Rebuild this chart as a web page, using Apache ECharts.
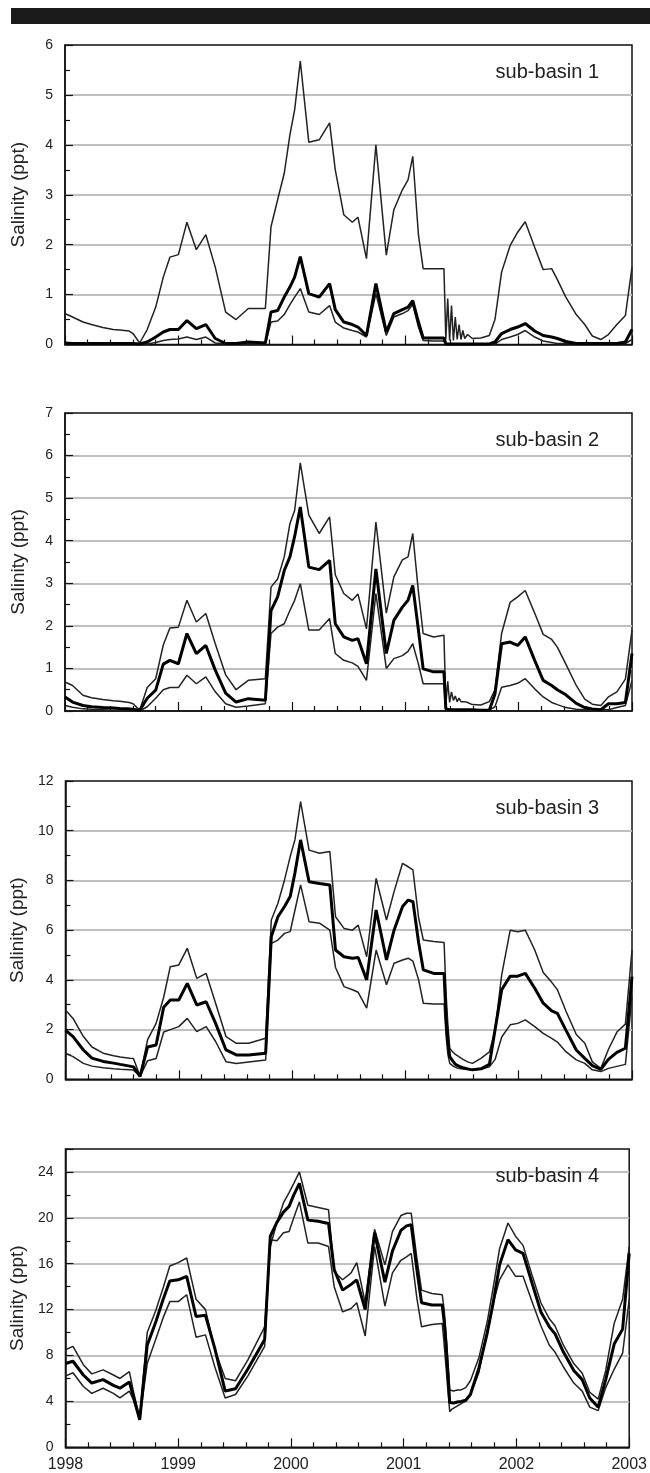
<!DOCTYPE html>
<html>
<head>
<meta charset="utf-8">
<script src="https://cdn.jsdelivr.net/npm/echarts@6/dist/echarts.min.js"></script>
<style>
  html, body { margin: 0; padding: 0; background: #fff; }
  #salinity { width: 650px; height: 1473px; }
</style>
</head>
<body>
<div id="salinity"></div>
<script>
// time in months since Jan 1998
var months = [0, 0.8, 1.9, 2.8, 4.0, 5.1, 5.8, 6.8, 7.2, 7.9,
  8.7, 9.6, 10.4, 11.1, 12.0, 12.9, 13.9, 14.9, 15.9, 17.0, 18.1, 19.4,
  21.2, 21.8, 22.5, 23.2, 23.8, 24.3, 24.9, 25.8, 26.9, 28.0, 28.6, 29.5, 30.4, 31.0, 31.9, 32.9, 34.0, 34.8, 35.7, 36.3, 36.8, 37.4, 37.9, 39.0,
  40.1, 40.3, 40.5, 40.7, 40.9, 41.1, 41.3, 41.5, 41.7, 41.9, 42.1, 42.3, 42.6, 43.1,
  44.0, 44.9, 45.5, 46.2, 47.1, 47.9, 48.7, 49.7, 50.6, 51.5, 52.1, 53.0, 54.1, 55.0, 55.8, 56.7, 57.5, 58.4, 59.3, 60];

// sub-basin 1
var sb1Hi = [0.62, 0.55, 0.45, 0.4, 0.34, 0.3, 0.29, 0.27, 0.22, 0.03,
  0.3, 0.75, 1.35, 1.75, 1.8, 2.45, 1.9, 2.2, 1.55, 0.65, 0.5, 0.72,
  0.72, 2.36, 2.9, 3.43, 4.2, 4.7, 5.68, 4.05, 4.1, 4.44, 3.5, 2.6, 2.45, 2.55, 1.72, 4.0, 1.79, 2.7, 3.1, 3.3, 3.77, 2.2, 1.52, 1.52,
  1.52, 0.1, 0.92, 0.08, 0.78, 0.08, 0.55, 0.1, 0.4, 0.1, 0.28, 0.12, 0.2, 0.12,
  0.13, 0.18, 0.5, 1.45, 1.98, 2.25, 2.46, 1.95, 1.5, 1.52, 1.3, 0.95, 0.6, 0.4, 0.17, 0.1, 0.2, 0.4, 0.58, 1.55];
var sb1Mid = [0.03, 0.02, 0.02, 0.02, 0.02, 0.02, 0.02, 0.02, 0.02, 0.01,
  0.05, 0.15, 0.25, 0.3, 0.3, 0.48, 0.32, 0.4, 0.12, 0.02, 0.02, 0.05,
  0.03, 0.65, 0.68, 0.95, 1.15, 1.35, 1.76, 1.02, 0.95, 1.22, 0.7, 0.45, 0.4, 0.35, 0.18, 1.22, 0.25, 0.62, 0.7, 0.75, 0.88, 0.45, 0.13, 0.13,
  0.13, 0.01, 0.01, 0.01, 0.01, 0.01, 0.01, 0.01, 0.01, 0.01, 0.01, 0.01, 0.01, 0.01,
  0.01, 0.01, 0.05, 0.22, 0.3, 0.35, 0.42, 0.27, 0.18, 0.15, 0.12, 0.06, 0.02, 0.02, 0.02, 0.02, 0.02, 0.02, 0.05, 0.3];
var sb1Lo = [0.01, 0.01, 0.01, 0.01, 0.01, 0.01, 0.01, 0.01, 0.01, 0.01,
  0.01, 0.04, 0.08, 0.1, 0.11, 0.15, 0.1, 0.15, 0.03, 0.01, 0.01, 0.01,
  0.01, 0.45, 0.47, 0.6, 0.8, 0.95, 1.12, 0.65, 0.6, 0.78, 0.45, 0.33, 0.28, 0.25, 0.15, 1.02, 0.18, 0.55, 0.62, 0.68, 0.8, 0.35, 0.08, 0.07,
  0.07, 0.01, 0.01, 0.01, 0.01, 0.01, 0.01, 0.01, 0.01, 0.01, 0.01, 0.01, 0.01, 0.01,
  0.01, 0.01, 0.01, 0.1, 0.15, 0.2, 0.28, 0.15, 0.07, 0.04, 0.02, 0.02, 0.02, 0.02, 0.02, 0.02, 0.02, 0.02, 0.02, 0.1];

// sub-basin 2
var sb2Hi = [0.68, 0.6, 0.37, 0.31, 0.27, 0.24, 0.23, 0.2, 0.17, 0.02,
  0.55, 0.76, 1.55, 1.95, 1.97, 2.6, 2.09, 2.29, 1.58, 0.85, 0.5, 0.72,
  0.76, 2.91, 3.1, 3.62, 4.4, 4.71, 5.83, 4.6, 4.17, 4.56, 3.2, 2.76, 2.6, 2.75, 1.93, 4.44, 2.3, 3.15, 3.55, 3.62, 4.17, 2.8, 1.82, 1.74,
  1.78, 0.15, 0.7, 0.2, 0.45, 0.25, 0.35, 0.22, 0.3, 0.22, 0.26, 0.22, 0.2, 0.15,
  0.14, 0.22, 0.5, 1.82, 2.55, 2.68, 2.83, 2.3, 1.8, 1.68, 1.5, 1.1, 0.6, 0.28, 0.16, 0.13, 0.33, 0.45, 0.75, 1.9];
var sb2Mid = [0.33, 0.21, 0.13, 0.1, 0.08, 0.07, 0.06, 0.05, 0.04, 0.01,
  0.3, 0.49, 1.1, 1.19, 1.11, 1.82, 1.35, 1.54, 0.96, 0.42, 0.21, 0.29,
  0.25, 2.36, 2.68, 3.3, 3.62, 4.1, 4.79, 3.38, 3.32, 3.54, 2.05, 1.74, 1.66, 1.7, 1.11, 3.34, 1.35, 2.13, 2.44, 2.6, 2.95, 1.9, 0.99, 0.92,
  0.92, 0.05, 0.08, 0.03, 0.03, 0.03, 0.03, 0.03, 0.03, 0.03, 0.03, 0.03, 0.03, 0.03,
  0.02, 0.02, 0.4, 1.58, 1.62, 1.54, 1.74, 1.19, 0.72, 0.6, 0.5, 0.38, 0.18, 0.08, 0.05, 0.03, 0.17, 0.17, 0.2, 1.35];
var sb2Lo = [0.13, 0.09, 0.05, 0.04, 0.03, 0.02, 0.02, 0.02, 0.01, 0,
  0.1, 0.3, 0.5, 0.55, 0.55, 0.84, 0.64, 0.8, 0.45, 0.17, 0.09, 0.12,
  0.17, 1.82, 1.97, 2.05, 2.36, 2.6, 2.99, 1.9, 1.9, 2.17, 1.35, 1.19, 1.13, 1.05, 0.72, 2.76, 1.0, 1.23, 1.3, 1.4, 1.58, 1.1, 0.64, 0.64,
  0.64, 0.02, 0.02, 0.02, 0.02, 0.02, 0.02, 0.02, 0.02, 0.02, 0.02, 0.02, 0.02, 0.02,
  0.02, 0.02, 0.1, 0.56, 0.6, 0.65, 0.76, 0.52, 0.33, 0.2, 0.15, 0.08, 0.04, 0.03, 0.03, 0.03, 0.03, 0.08, 0.13, 0.72];

// sub-basin 3
var sb3Hi = [2.79, 2.45, 1.72, 1.3, 1.05, 0.95, 0.9, 0.85, 0.84, 0.12,
  1.6, 2.25, 3.3, 4.53, 4.6, 5.27, 4.06, 4.26, 3.06, 1.72, 1.45, 1.45,
  1.65, 6.41, 7.08, 8.02, 8.96, 9.63, 11.17, 9.22, 9.09, 9.16, 6.54, 6.07, 6.0, 6.2, 4.93, 8.08, 6.41, 7.55, 8.69, 8.55, 8.42, 6.5, 5.6, 5.54,
  5.5, 3.5, 2.2, 1.25, 1.15, 1.11, 1.0, 0.95, 0.9, 0.85, 0.8, 0.75, 0.7, 0.64,
  0.84, 1.1, 1.98, 4.2, 6.0, 5.94, 6.0, 5.2, 4.3, 3.9, 3.6, 2.75, 1.8, 1.45, 0.7, 0.44, 1.2, 1.9, 2.22, 5.2];
var sb3Mid = [1.98, 1.72, 1.18, 0.85, 0.72, 0.65, 0.6, 0.53, 0.5, 0.12,
  1.3, 1.38, 2.9, 3.19, 3.19, 3.86, 2.99, 3.12, 2.25, 1.18, 0.98, 0.98,
  1.05, 5.74, 6.54, 6.95, 7.35, 8.3, 9.63, 7.95, 7.88, 7.82, 5.2, 4.93, 4.87, 4.9, 4.0, 6.81, 4.8, 6.0, 6.95, 7.21, 7.15, 5.5, 4.4, 4.26,
  4.26, 2.5, 1.5, 0.91, 0.8, 0.7, 0.6, 0.55, 0.52, 0.5, 0.47, 0.45, 0.42, 0.38,
  0.42, 0.6, 2.0, 3.6, 4.15, 4.15, 4.26, 3.66, 3.06, 2.75, 2.65, 1.98, 1.18, 0.84, 0.55, 0.4, 0.8, 1.08, 1.25, 4.13];
var sb3Lo = [1.05, 0.91, 0.64, 0.53, 0.46, 0.42, 0.4, 0.38, 0.37, 0.12,
  0.75, 0.84, 1.9, 2.0, 2.12, 2.45, 1.92, 2.12, 1.52, 0.71, 0.64, 0.7,
  0.78, 5.47, 5.6, 5.87, 5.94, 6.8, 7.82, 6.34, 6.28, 6.0, 4.5, 3.73, 3.6, 3.5, 2.86, 5.2, 3.8, 4.67, 4.8, 4.87, 4.75, 4.0, 3.06, 3.03,
  3.03, 1.8, 1.0, 0.64, 0.58, 0.52, 0.47, 0.45, 0.43, 0.42, 0.41, 0.4, 0.39, 0.38,
  0.4, 0.5, 0.8, 1.7, 2.19, 2.25, 2.39, 2.12, 1.85, 1.65, 1.5, 1.11, 0.78, 0.64, 0.38, 0.31, 0.44, 0.52, 0.6, 3.33];

// sub-basin 4
var sb4Hi = [8.5, 8.8, 7.2, 6.4, 6.75, 6.3, 6.0, 6.6, 5.0, 2.5,
  10.0, 11.9, 13.9, 15.8, 16.1, 16.5, 12.9, 12.0, 8.5, 6.0, 5.8, 7.6,
  10.5, 17.5, 19.6, 21.3, 22.2, 23.0, 24.0, 21.1, 20.9, 20.7, 15.3, 14.6, 15.2, 16.1, 12.6, 19.0, 15.9, 18.8, 20.2, 20.4, 20.4, 16.5, 13.7, 13.4,
  13.3, 12.0, 10.0, 7.5, 5.0, 4.9, 4.9, 5.0, 5.0, 5.0, 5.0, 5.1, 5.2, 5.8,
  7.8, 11.0, 13.8, 17.3, 19.55, 18.4, 17.6, 14.9, 12.6, 11.2, 10.6, 8.9, 7.3, 6.45, 4.8, 4.2, 6.7, 10.8, 12.9, 17.5];
var sb4Mid = [7.3, 7.5, 6.3, 5.6, 5.9, 5.4, 5.15, 5.7, 4.5, 2.4,
  8.9, 10.9, 12.9, 14.5, 14.6, 14.9, 11.4, 11.5, 8.6, 4.9, 5.1, 6.8,
  9.4, 18.4, 19.6, 20.5, 21.0, 22.0, 23.0, 19.8, 19.7, 19.5, 15.5, 13.7, 14.2, 14.6, 12.0, 18.7, 14.4, 17.1, 18.9, 19.3, 19.4, 15.5, 12.6, 12.4,
  12.4, 11.0, 9.0, 6.5, 3.9, 3.8, 3.85, 3.9, 3.95, 4.0, 4.0, 4.05, 4.1, 4.6,
  6.9, 10.0, 12.5, 15.9, 18.1, 17.2, 16.9, 14.2, 11.8, 10.5, 9.9, 8.3, 6.7, 5.9, 4.3, 3.5, 5.9, 9.0, 10.3, 16.9];
var sb4Lo = [6.2, 6.5, 5.3, 4.7, 5.15, 4.7, 4.3, 4.9, 4.2, 2.4,
  7.3, 9.4, 11.3, 12.7, 12.7, 13.3, 9.6, 9.8, 7.0, 4.3, 4.6, 6.2,
  8.8, 18.1, 18.0, 18.7, 18.8, 20.0, 21.4, 17.8, 17.8, 17.5, 14.0, 11.8, 12.1, 12.6, 9.7, 17.5, 12.3, 15.2, 16.3, 16.6, 16.9, 13.0, 10.5, 10.7,
  10.8, 9.0, 7.0, 5.0, 3.1, 3.3, 3.4, 3.5, 3.6, 3.7, 3.8, 3.9, 4.0, 4.6,
  6.5, 10.2, 12.5, 14.6, 15.9, 14.9, 14.9, 12.6, 10.6, 8.9, 8.3, 7.0, 5.6, 4.9, 3.5, 3.2, 5.2, 6.8, 8.2, 12.9];

var yearLabels = ['1998', '1999', '2000', '2001', '2002', '2003'];
var panelNames = ['sub-basin 1', 'sub-basin 2', 'sub-basin 3', 'sub-basin 4'];
var yMax = [6, 7, 12, 26];
var yStep = [1, 1, 2, 4];

var panels = [
  [sb1Hi, sb1Lo, sb1Mid],
  [sb2Hi, sb2Lo, sb2Mid],
  [sb3Hi, sb3Lo, sb3Mid],
  [sb4Hi, sb4Lo, sb4Mid]
];

var font = 'Liberation Sans, Arial, sans-serif';
var tops = [45, 413, 781, 1149];
var heights = [299.5, 298, 298.3, 298.3];

function pairs(ys) {
  return months.map(function (t, k) { return [t, ys[k]]; });
}

var grid = [], xAxis = [], yAxis = [], title = [], series = [];
for (var i = 0; i < 4; i++) {
  grid.push({
    left: 65, right: 18, top: tops[i], height: heights[i],
    show: true, borderColor: '#111', borderWidth: 1.5
  });
  title.push({
    text: panelNames[i], right: 46, top: tops[i] + 12,
    textStyle: { fontFamily: font, fontSize: 20, fontWeight: 'normal', color: '#222' }
  });
  xAxis.push({
    gridIndex: i, type: 'value', min: 0, max: 60, interval: 12,
    axisLine: { show: true, lineStyle: { color: '#111', width: 1.5 } },
    axisTick: { show: true, inside: true, length: 9, lineStyle: { color: '#111', width: 1.2 } },
    minorTick: { show: true, splitNumber: 5, length: 5, lineStyle: { color: '#111', width: 1.2 } },
    axisLabel: {
      show: i === 3, margin: 9, fontFamily: font, fontSize: 16, color: '#222',
      formatter: function (v) { return yearLabels[Math.round(v / 12)]; }
    },
    splitLine: { show: false }
  });
  (function (step) {
    yAxis.push({
      gridIndex: i, type: 'value', min: 0, max: yMax[i], interval: step,
      name: 'Salinity (ppt)', nameLocation: 'middle', nameGap: 37,
      nameTextStyle: { fontFamily: font, fontSize: 19, color: '#222' },
      axisLine: { show: true, lineStyle: { color: '#111', width: 1.5 } },
      axisTick: { show: true, inside: true, length: 8, lineStyle: { color: '#111', width: 1.2 } },
      minorTick: { show: true, splitNumber: 2, length: 5, lineStyle: { color: '#111', width: 1.2 } },
      axisLabel: {
        margin: 12, fontFamily: font, fontSize: 14, color: '#222',
        formatter: function (v) { return v % step === 0 ? String(v) : ''; }
      },
      splitLine: { show: true, showMinLine: false, showMaxLine: false, lineStyle: { color: '#bfbfbf', width: 2 } }
    });
  })(yStep[i]);

  panels[i].forEach(function (ys, k) {
    var bold = k === 2;
    series.push({
      type: 'line', xAxisIndex: i, yAxisIndex: i,
      data: pairs(ys), showSymbol: false, symbol: 'none', silent: true,
      z: bold ? 4 : 3,
      lineStyle: { color: bold ? '#000' : '#222', width: bold ? 3 : 1.5 }
    });
  });
}

var myChart = echarts.init(document.getElementById('salinity'), null, { renderer: 'canvas' });
myChart.setOption({
  animation: false,
  backgroundColor: '#fff',
  textStyle: { fontFamily: font },
  graphic: [{
    type: 'rect', left: 11, top: 8,
    shape: { width: 639, height: 16 },
    style: { fill: '#1b1b1b' }
  }],
  title: title,
  grid: grid,
  xAxis: xAxis,
  yAxis: yAxis,
  series: series
});
</script>
</body>
</html>
